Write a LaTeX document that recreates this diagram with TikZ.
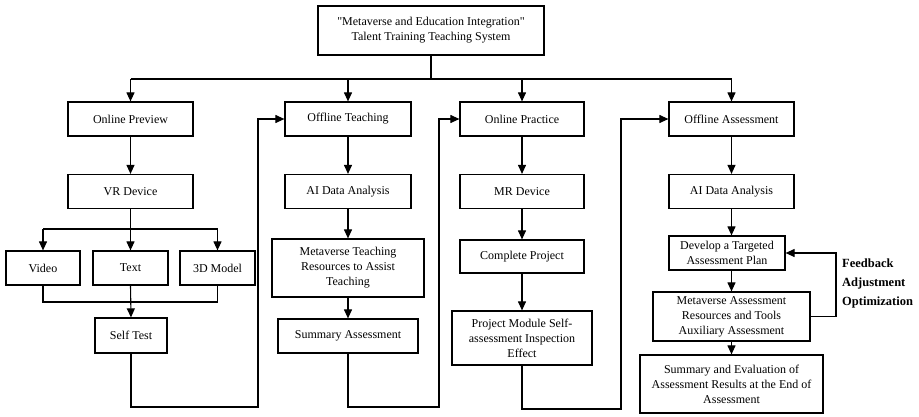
\documentclass[tikz,border=0pt]{standalone}
\usepackage{fontspec}
\setmainfont{Liberation Serif}
\usetikzlibrary{arrows.meta,positioning}

\tikzset{
  box/.style={draw, line width=1.2pt, align=center, inner sep=2pt,
    minimum height=34pt, font=\fontsize{12}{15}\selectfont},
  flow/.style={line width=1.1pt, -{Triangle[length=9pt,width=8pt]}},
  link/.style={line width=1.1pt},
  fblabel/.style={align=left, inner sep=0pt, font=\fontsize{12.5}{19}\selectfont\bfseries},
}

\begin{document}
\begin{tikzpicture}[x=1pt,y=-1pt]
  \useasboundingbox (0,0) rectangle (919,416);
  % Top box
  \node[box, minimum width=226pt, minimum height=49pt] (top) at (431,30.5)
    {\textquotedbl Metaverse and Education Integration\textquotedbl\\Talent Training Teaching System};
  % Column 1: online preview
  \node[box, minimum width=125pt] (op) at (130.5,119) {Online Preview};
  \node[box, minimum width=125pt] (vr) at (130.5,191.5) {VR Device};
  \node[box, minimum width=74pt] (video) at (43,268) {Video};
  \node[box, minimum width=75pt] (text) at (130.5,268) {Text};
  \node[box, minimum width=75pt] (model) at (217.5,268) {3D Model};
  \node[box, minimum width=72pt, minimum height=35pt] (self) at (131,335.5) {Self Test};
  % Column 2: offline teaching
  \node[box, minimum width=126pt] (ot) at (348,119) {Offline Teaching};
  \node[box, minimum width=126pt] (aida) at (348,191.5) {AI Data Analysis};
  \node[box, minimum width=152pt, minimum height=58pt] (mtr) at (348,268)
    {Metaverse Teaching\\Resources to Assist\\Teaching};
  \node[box, minimum width=140pt] (sa) at (348,336) {Summary Assessment};
  % Column 3: online practice
  \node[box, minimum width=124pt] (pr) at (522,119) {Online Practice};
  \node[box, minimum width=124pt] (mr) at (522,191.5) {MR Device};
  \node[box, minimum width=124pt, minimum height=33pt] (cp) at (522,256.5) {Complete Project};
  \node[box, minimum width=140pt, minimum height=54pt] (pm) at (522,338)
    {Project Module Self-\\assessment Inspection\\Effect};
  % Column 4: offline assessment
  \node[box, minimum width=125pt] (oa) at (731.5,119) {Offline Assessment};
  \node[box, minimum width=125pt] (aidb) at (731.5,191.5) {AI Data Analysis};
  \node[box, minimum width=116pt] (dev) at (727,253) {Develop a Targeted\\Assessment Plan};
  \node[box, minimum width=157pt, minimum height=49pt] (mar) at (731.5,316.5)
    {Metaverse Assessment\\Resources and Tools\\Auxiliary Assessment};
  \node[box, minimum width=183pt, minimum height=58pt] (se) at (731.5,384)
    {Summary and Evaluation of\\Assessment Results at the End of\\Assessment};
  \node[fblabel, anchor=west] (fb) at (842,283) {Feedback\\Adjustment\\Optimization};

  % Bus from the top box
  \coordinate (busL) at (130.5,79);
  \coordinate (busR) at (731.5,79);
  \draw[link] (top.south) -- (top.south |- busL);
  \draw[link] (busL) -- (busR);
  \foreach \n in {op,ot,pr,oa}
    \draw[flow] (\n.north |- busL) -- (\n.north);

  % Column 1 links
  \draw[flow] (op) -- (vr);
  \coordinate (split) at (130.5,229);
  \coordinate (merge) at (130.5,302);
  \draw[link] (vr.south) -- (split);
  \draw[link] (video.north |- split) -- (model.north |- split);
  \foreach \n in {video,text,model}
    \draw[flow] (\n.north |- split) -- (\n.north);
  \draw[link] (video.south) |- (model.south |- merge) -- (model.south);
  \draw[flow] (text.south) -- (self.north);

  % Column 2, 3, 4 links
  \draw[flow] (ot) -- (aida);
  \draw[flow] (aida) -- (mtr);
  \draw[flow] (mtr) -- (sa);
  \draw[flow] (pr) -- (mr);
  \draw[flow] (mr) -- (cp);
  \draw[flow] (cp) -- (pm);
  \draw[flow] (oa) -- (aidb);
  \draw[flow] (aidb.south) -- (aidb.south |- dev.north);
  \draw[flow] (dev.south -| aidb.south) -- (mar.north -| aidb.south);
  \draw[flow] (mar) -- (se);

  % Return lines to the next stage
  \coordinate (loopA) at (258,407);
  \coordinate (loopB) at (439,407);
  \coordinate (loopC) at (621,409);
  \draw[flow] (self.south) |- (loopA) |- (ot.west);
  \draw[flow] (sa.south) |- (loopB) |- (pr.west);
  \draw[flow] (pm.south) |- (loopC) |- (oa.west);

  % Feedback loop
  \coordinate (fbturn) at (836,318);
  \draw[flow] (mar.east) -- (mar.east -| fbturn) |- (dev.east);
\end{tikzpicture}
\end{document}
